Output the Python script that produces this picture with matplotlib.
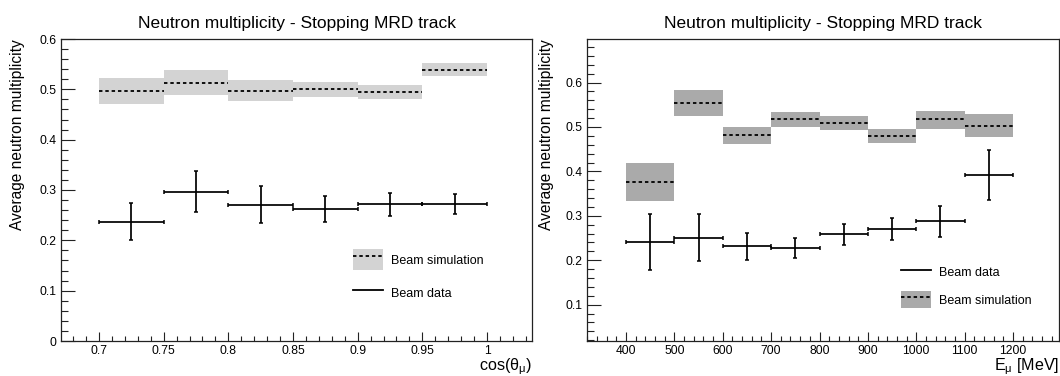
import matplotlib
matplotlib.use("Agg")
import matplotlib.pyplot as plt
from matplotlib.patches import Patch
from matplotlib.lines import Line2D
from matplotlib.legend_handler import HandlerTuple
from matplotlib.ticker import MultipleLocator
import numpy as np

plt.rcParams["font.family"] = ["Liberation Sans", "DejaVu Sans"]
plt.rcParams["mathtext.fontset"] = "custom"
plt.rcParams["mathtext.rm"] = "Liberation Sans"
plt.rcParams["mathtext.it"] = "Liberation Sans"

# ---- cos(theta_mu) binning ----
cos_edges = [0.70, 0.75, 0.80, 0.85, 0.90, 0.95, 1.00]
cos_sim = [0.497, 0.513, 0.497, 0.500, 0.495, 0.539]
cos_sim_lo = [0.471, 0.489, 0.476, 0.485, 0.481, 0.526]
cos_sim_hi = [0.523, 0.538, 0.518, 0.515, 0.509, 0.553]
cos_data = [0.237, 0.297, 0.271, 0.263, 0.272, 0.272]
cos_data_err = [0.037, 0.041, 0.036, 0.026, 0.023, 0.020]

# ---- muon energy binning (MeV) ----
e_edges = [400, 500, 600, 700, 800, 900, 1000, 1100, 1200]
e_sim = [0.376, 0.553, 0.481, 0.517, 0.508, 0.479, 0.517, 0.503]
e_sim_lo = [0.334, 0.524, 0.462, 0.501, 0.493, 0.463, 0.496, 0.478]
e_sim_hi = [0.418, 0.583, 0.500, 0.533, 0.524, 0.496, 0.536, 0.529]
e_data = [0.241, 0.251, 0.231, 0.227, 0.258, 0.271, 0.288, 0.392]
e_data_err = [0.064, 0.052, 0.031, 0.022, 0.023, 0.025, 0.035, 0.057]

TITLE = "Neutron multiplicity - Stopping MRD track"
YLABEL = "Average neutron multiplicity"

W, H = 1060, 376
fig = plt.figure(figsize=(W / 100, H / 100), dpi=100)


def px_axes(x0, x1, y0, y1):
    return fig.add_axes([x0 / W, 1 - y1 / H, (x1 - x0) / W, (y1 - y0) / H])


ax1 = px_axes(61, 532, 39, 341)
ax2 = px_axes(587, 1059, 39, 341)

DASH = (0, (1.9, 1.6))


def draw_panel(ax, edges, sim, lo, hi, data, err, fill):
    edges = np.asarray(edges, dtype=float)
    left = edges[:-1]
    width = np.diff(edges)
    centers = left + width / 2
    ax.bar(left, np.asarray(hi) - np.asarray(lo), bottom=lo, width=width,
           align="edge", color=fill, edgecolor="none", zorder=1)
    ax.hlines(sim, left, edges[1:], colors="black", linewidth=1.3,
              linestyles=DASH, zorder=2)
    ax.errorbar(centers, data, xerr=width / 2, yerr=err, fmt="none",
                ecolor="black", elinewidth=1.25, capsize=1.6, capthick=1.1,
                zorder=3)


draw_panel(ax1, cos_edges, cos_sim, cos_sim_lo, cos_sim_hi,
           cos_data, cos_data_err, "#d3d3d3")
draw_panel(ax2, e_edges, e_sim, e_sim_lo, e_sim_hi,
           e_data, e_data_err, "#aaaaaa")

ax1.set_xlim(0.6706, 1.0348)
ax1.set_ylim(0.0, 0.6)
ax2.set_xlim(319.4, 1295)
ax2.set_ylim(0.0182, 0.698)

ax1.xaxis.set_minor_locator(MultipleLocator(0.01))
ax1.yaxis.set_minor_locator(MultipleLocator(0.02))
ax2.xaxis.set_minor_locator(MultipleLocator(20))
ax2.yaxis.set_minor_locator(MultipleLocator(0.02))

ax1.set_xticks([0.7, 0.75, 0.8, 0.85, 0.9, 0.95, 1.0])
ax1.set_xticklabels(["0.7", "0.75", "0.8", "0.85", "0.9", "0.95", "1"])
ax1.set_yticks([0, 0.1, 0.2, 0.3, 0.4, 0.5, 0.6])
ax1.set_yticklabels(["0", "0.1", "0.2", "0.3", "0.4", "0.5", "0.6"])
ax2.set_xticks(e_edges)
ax2.set_yticks([0.1, 0.2, 0.3, 0.4, 0.5, 0.6])
ax2.set_yticklabels(["0.1", "0.2", "0.3", "0.4", "0.5", "0.6"])

for ax in (ax1, ax2):
    for s in ax.spines.values():
        s.set_linewidth(0.9)
        s.set_color("#222222")
    ax.tick_params(axis="both", which="both", direction="in",
                   top=False, right=False, labelsize=8.7, pad=3,
                   color="#222222", width=0.8)
    ax.tick_params(axis="y", which="major", length=10)
    ax.tick_params(axis="y", which="minor", length=5)
    ax.tick_params(axis="x", which="major", length=6.5)
    ax.tick_params(axis="x", which="minor", length=3.3)
    ax.set_title(TITLE, fontsize=12.5, pad=8)
    ax.set_ylabel(YLABEL, fontsize=11.2, ha="right", va="center")

ax1.yaxis.set_label_coords(-0.092, 1.0)
ax2.yaxis.set_label_coords(-0.085, 1.0)

ax1.set_xlabel(r"cos($\mathregular{\theta_{\mu}}$)", fontsize=11.6,
               ha="right", va="center")
ax1.xaxis.set_label_coords(1.0, -0.085)
ax2.set_xlabel(r"E$\mathregular{_{\mu}}$ [MeV]", fontsize=11.6,
               ha="right", va="center")
ax2.xaxis.set_label_coords(1.0, -0.085)

# legends
fs = 9
fs_px = fs * 100 / 72
sim_light = (Patch(facecolor="#d3d3d3", edgecolor="none"),
             Line2D([], [], color="black", lw=1.3, ls=DASH))
sim_dark = (Patch(facecolor="#aaaaaa", edgecolor="none"),
            Line2D([], [], color="black", lw=1.3, ls=DASH))
data_h = Line2D([], [], color="black", lw=1.3)
overlay = {tuple: HandlerTuple(ndivide=1, pad=0)}

ax1.legend([sim_light, data_h], ["Beam simulation", "Beam data"],
           handler_map=overlay,
           loc="upper left", bbox_to_anchor=(0.620, 0.3046),
           frameon=False, fontsize=fs, borderpad=0, borderaxespad=0,
           handlelength=30 / fs_px, handleheight=28 / fs_px,
           labelspacing=12 / fs_px, handletextpad=8 / fs_px)
ax2.legend([data_h, sim_dark], ["Beam data", "Beam simulation"],
           handler_map=overlay,
           loc="upper left", bbox_to_anchor=(0.665, 0.256),
           frameon=False, fontsize=fs, borderpad=0, borderaxespad=0,
           handlelength=30 / fs_px, handleheight=22 / fs_px,
           labelspacing=10 / fs_px, handletextpad=8 / fs_px)

fig.savefig("out.png", dpi=100)
